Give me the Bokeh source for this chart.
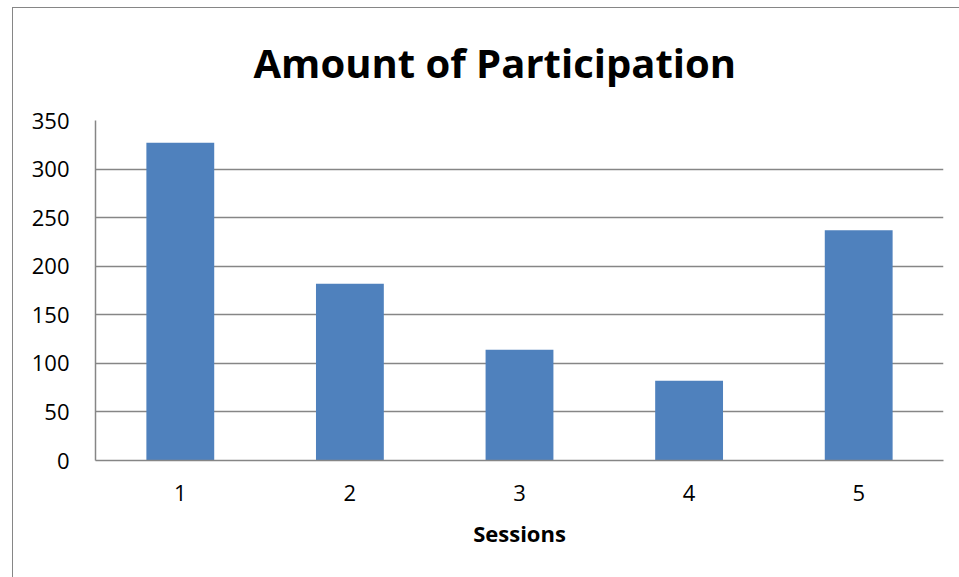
from bokeh.plotting import figure
from bokeh.models import ColumnDataSource, Title
from bokeh.embed import file_html
from bokeh.resources import INLINE

sessions = ["1", "2", "3", "4", "5"]
participation = [327, 182, 114, 82, 237]
y_ticks = [0, 50, 100, 150, 200, 250, 300, 350]
title_text = "Amount of Participation"
x_label = "Sessions"

src = ColumnDataSource(dict(x=sessions, top=participation))

grey = "#868686"
font = "Open Sans"

p = figure(width=959, height=577, x_range=sessions, y_range=(0, 350),
           output_backend="svg", toolbar_location=None,
           min_border_left=95, min_border_right=16,
           min_border_top=120, min_border_bottom=117)
p.x_range.range_padding = 0
p.border_fill_color = None
p.background_fill_color = "white"
g = f"linear-gradient({grey}, {grey})"
p.styles = {
    "background-color": "white",
    "background-image": f"{g}, {g}",
    "background-repeat": "no-repeat, no-repeat",
    "background-position": "12px 7px, 12px 7px",
    "background-size": "100% 1px, 1px 100%",
}

p.vbar(x="x", top="top", width=0.4, source=src, fill_color="#4F81BD", line_color=None)

p.title = Title(text=title_text, align="left", text_font=font,
                text_font_size="40px", text_font_style="bold",
                text_color="#000000", offset=158, standoff=62)

p.yaxis.ticker = y_ticks
p.ygrid.grid_line_color = grey
p.ygrid.grid_line_width = 1.5
p.xgrid.grid_line_color = None
p.outline_line_color = None

for ax in (p.xaxis[0], p.yaxis[0]):
    ax.axis_line_color = grey
    ax.axis_line_width = 1.5
    ax.major_tick_line_color = None
    ax.minor_tick_line_color = None
    ax.major_label_text_font = font
    ax.major_label_text_font_size = "22px"
    ax.major_label_text_color = "#000000"

p.yaxis.major_label_standoff = 20
p.xaxis.major_label_standoff = 18
p.xaxis.axis_label = x_label
p.xaxis.axis_label_text_font = font
p.xaxis.axis_label_text_font_size = "22px"
p.xaxis.axis_label_text_font_style = "bold"
p.xaxis.axis_label_text_color = "#000000"
p.xaxis.axis_label_standoff = 14

open("out.html", "w").write(file_html(p, INLINE))
